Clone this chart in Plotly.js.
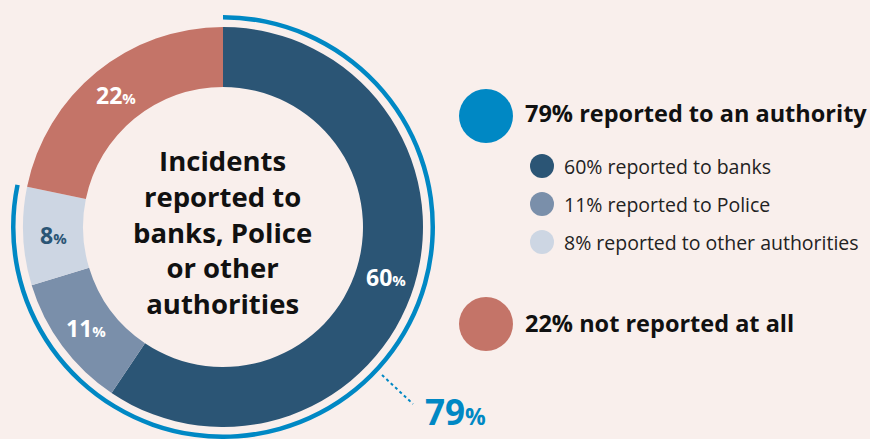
<!DOCTYPE html>
<html><head><meta charset="utf-8">
<script src="https://cdn.plot.ly/plotly-3.0.1.min.js"></script>
<style>html,body{margin:0;padding:0;background:#f9efec;}</style>
</head><body><div id="chart" style="width:870px;height:439px;"></div>
<script>
// ---- data ----
const categories = ["reported to banks", "reported to Police", "reported to other authorities", "not reported at all"];
const values = [60, 11, 8, 22];
const sliceColors = ["#2b5575", "#7a8faa", "#cdd6e3", "#c47468"];
const labelColors = ["#ffffff", "#ffffff", "#2b5575", "#ffffff"];
const reportedTotal = 79;
const notReported = 22;
const centerTitleLines = ["Incidents", "reported to", "banks, Police", "or other", "authorities"];
const legendMain = ["79% reported to an authority", "22% not reported at all"];
const legendSub = ["60% reported to banks", "11% reported to Police", "8% reported to other authorities"];

// ---- geometry ----
const W = 870, H = 439;
const cx = 223, cy = 227, rOut = 200, rIn = 140, rRing = 212;
const blue = "#0088c4";
const FONT = "Open Sans, sans-serif";
const px = x => x / W, py = y => 1 - y / H;

const pie = {
  type: "pie", values: values, labels: categories, sort: false, direction: "clockwise",
  rotation: 0, hole: rIn / rOut, textinfo: "none", hoverinfo: "skip",
  marker: {colors: sliceColors, line: {width: 0}},
  domain: {x: [px(cx - rOut), px(cx + rOut)], y: [py(cy + rOut), py(cy - rOut)]}
};
const ring = {
  type: "pie", values: [reportedTotal, notReported], labels: ["a", "b"], sort: false, direction: "clockwise",
  rotation: 0, hole: (rRing - 4.5) / rRing, textinfo: "none", hoverinfo: "skip",
  marker: {colors: [blue, "rgba(0,0,0,0)"], line: {width: 0}},
  domain: {x: [px(cx - rRing), px(cx + rRing)], y: [Math.max(0, py(cy + rRing)), py(cy - rRing)]}
};

const annotations = [];
// slice labels computed from the values
const total = values.reduce((a, b) => a + b, 0);
let cum = 0;
const rMid = (rIn + rOut) / 2;
values.forEach((v, i) => {
  const a = (cum + v / 2) / total * 2 * Math.PI;
  cum += v;
  const x = cx + rMid * Math.sin(a), y = cy - rMid * Math.cos(a);
  annotations.push({
    xref: "paper", yref: "paper", x: px(x), y: py(y), showarrow: false,
    xanchor: "center", yanchor: "middle",
    text: "<b>" + v + "</b><span style='font-size:15px'><b>%</b></span>",
    font: {family: FONT, size: 23, color: labelColors[i]}
  });
});
// center title
annotations.push({xref: "paper", yref: "paper", x: px(cx), y: py(232), showarrow: false,
  xanchor: "center", yanchor: "middle", align: "center",
  text: centerTitleLines.map(t => "<b>" + t + "</b>").join("<br>"),
  font: {family: FONT, size: 27.5, color: "#111111"}});
// 79% callout
annotations.push({xref: "paper", yref: "paper", x: px(423), y: 0.004, showarrow: false,
  xanchor: "left", yanchor: "bottom",
  text: "<b>" + reportedTotal + "</b><span style='font-size:23px'><b>%</b></span>",
  font: {family: FONT, size: 35, color: blue}});
// legend text
annotations.push({xref: "paper", yref: "paper", x: px(523), y: py(113), showarrow: false,
  xanchor: "left", yanchor: "middle", text: "<b>" + legendMain[0] + "</b>",
  font: {family: FONT, size: 23.5, color: "#111111"}});
annotations.push({xref: "paper", yref: "paper", x: px(523), y: py(323), showarrow: false,
  xanchor: "left", yanchor: "middle", text: "<b>" + legendMain[1] + "</b>",
  font: {family: FONT, size: 23.5, color: "#111111"}});
const subY = [166, 204, 242];
legendSub.forEach((t, i) => {
  annotations.push({xref: "paper", yref: "paper", x: px(562), y: py(subY[i]), showarrow: false,
    xanchor: "left", yanchor: "middle", text: t,
    font: {family: FONT, size: 19.5, color: "#222222"}});
});

const circle = (x, y, r, c) => ({type: "circle", xref: "paper", yref: "paper",
  x0: px(x - r), x1: px(x + r), y0: py(y + r), y1: py(y - r), fillcolor: c, line: {width: 0}});
const shapes = [
  circle(486, 116, 27, blue),
  circle(486, 324, 27, sliceColors[3]),
  circle(542, subY[0], 12, sliceColors[0]),
  circle(542, subY[1], 12, sliceColors[1]),
  circle(542, subY[2], 12, sliceColors[2]),
  {type: "line", xref: "paper", yref: "paper", x0: px(382), y0: py(375), x1: px(413), y1: py(404),
   line: {color: blue, width: 2, dash: "dot"}}
];

Plotly.newPlot("chart", [pie, ring], {
  width: W, height: H, margin: {l: 0, r: 0, t: 0, b: 0, pad: 0},
  paper_bgcolor: "#f9efec", plot_bgcolor: "#f9efec", showlegend: false,
  annotations: annotations, shapes: shapes
}, {displayModeBar: false, staticPlot: true});
</script></body></html>
